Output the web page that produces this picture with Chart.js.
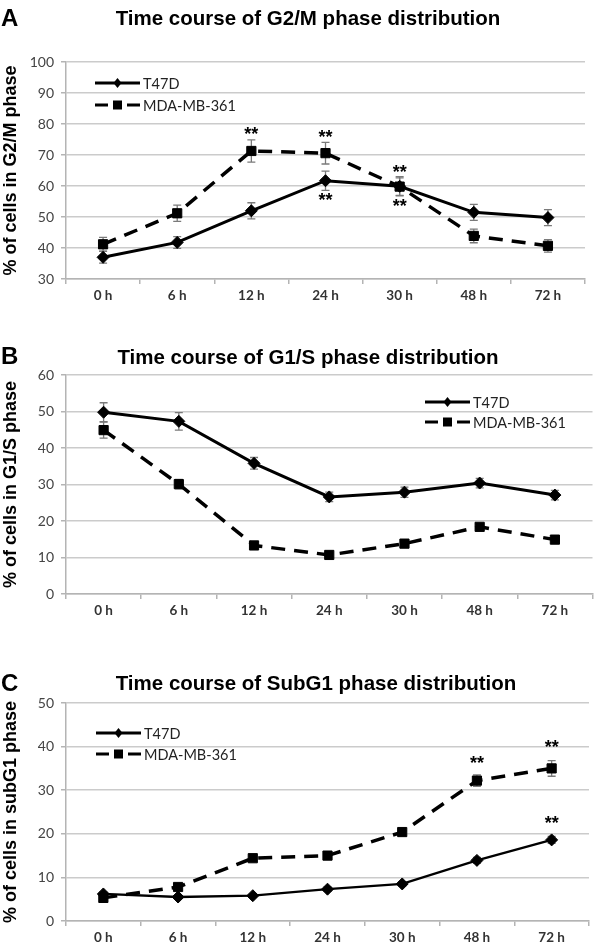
<!DOCTYPE html>
<html>
<head>
<meta charset="utf-8">
<script src="https://cdn.jsdelivr.net/npm/chart.js@4.4.0/dist/chart.umd.min.js"></script>
<style>
  body { margin: 0; background: #fff; }
  #page { position: relative; width: 600px; height: 943px; overflow: hidden; background: #fff; }
  canvas { position: absolute; left: 0; }
  .letter { position: absolute; left: 1px; font: bold 24px "Liberation Sans", Arial, sans-serif; color: #000; }
  .title { position: absolute; left: 0; width: 616px; text-align: center; font: bold 20.5px "Liberation Sans", Arial, sans-serif; color: #000; white-space: nowrap; }
</style>
</head>
<body>
<div id="page">
  <canvas id="chartA" width="600" height="312" style="top:0px"></canvas>
  <canvas id="chartB" width="600" height="290" style="top:340px"></canvas>
  <canvas id="chartC" width="600" height="303" style="top:640px"></canvas>

  <div class="letter" style="top:4px">A</div>
  <div class="title" style="top:6px">Time course of G2/M phase distribution</div>
  <div class="letter" style="top:342px">B</div>
  <div class="title" style="top:345px">Time course of G1/S phase distribution</div>
  <div class="letter" style="top:669px">C</div>
  <div class="title" style="top:671px; width:632px">Time course of SubG1 phase distribution</div>
</div>

<script>
const hours = ["0 h", "6 h", "12 h", "24 h", "30 h", "48 h", "72 h"];
const cellLines = ["T47D", "MDA-MB-361"];

// A - G2/M
const g2mT47D = [37.0, 41.8, 52.0, 61.7, 59.9, 51.5, 49.8];
const g2mT47DErr = [1.9, 1.9, 2.6, 3.1, 3.1, 2.6, 2.6];
const g2mMDA = [41.2, 51.2, 71.3, 70.6, 59.8, 43.9, 40.7];
const g2mMDAErr = [2.2, 2.6, 3.6, 3.5, 2.8, 2.2, 2.0];
const g2mStarHours = ["12 h", "24 h", "24 h", "30 h", "30 h"];
const g2mStarValues = [78.1, 77.2, 56.8, 65.7, 54.9];

// B - G1/S
const g1sT47D = [49.8, 47.3, 35.8, 26.6, 27.9, 30.4, 27.1];
const g1sT47DErr = [2.6, 2.4, 1.6, 1.3, 1.4, 1.3, 1.3];
const g1sMDA = [44.9, 30.1, 13.3, 10.7, 13.8, 18.4, 14.9];
const g1sMDAErr = [2.2, 1.3, 0.8, 0.6, 0.7, 0.8, 0.6];

// C - SubG1
const subT47D = [6.2, 5.5, 5.8, 7.3, 8.5, 13.9, 18.6];
const subT47DErr = [0.5, 0.4, 0.4, 0.5, 0.5, 0.7, 0.8];
const subMDA = [5.3, 7.8, 14.4, 15.0, 20.4, 32.2, 35.0];
const subMDAErr = [0.5, 0.6, 0.7, 0.7, 0.8, 1.3, 1.8];
const subStarHours = ["48 h", "72 h", "72 h"];
const subStarValues = [37.1, 40.8, 23.4];

const AXIS_GREY = "#b4b4b4";
const GRID_GREY = "#cbcbcb";

// error bars, drawn under the markers
const errorBars = {
  id: "errorBars",
  beforeDatasetsDraw(chart) {
    const ctx = chart.ctx;
    const y = chart.scales.y;
    ctx.save();
    ctx.strokeStyle = "#7a7a7a";
    ctx.lineWidth = 1.3;
    chart.data.datasets.forEach((ds, di) => {
      const meta = chart.getDatasetMeta(di);
      ds.errors.forEach((e, i) => {
        const pt = meta.data[i];
        const top = y.getPixelForValue(ds.data[i] + e);
        const bot = y.getPixelForValue(ds.data[i] - e);
        ctx.beginPath();
        ctx.moveTo(pt.x, top); ctx.lineTo(pt.x, bot);
        ctx.moveTo(pt.x - 4, top); ctx.lineTo(pt.x + 4, top);
        ctx.moveTo(pt.x - 4, bot); ctx.lineTo(pt.x + 4, bot);
        ctx.stroke();
      });
    });
    ctx.restore();
  }
};

// significance marks
const stars = {
  id: "stars",
  afterDatasetsDraw(chart, args, opts) {
    if (!opts.hours) return;
    const ctx = chart.ctx;
    ctx.save();
    ctx.fillStyle = "#000";
    ctx.font = "bold 18px 'Liberation Sans', Arial, sans-serif";
    ctx.textAlign = "center";
    ctx.textBaseline = "alphabetic";
    opts.hours.forEach((h, i) => {
      const px = chart.scales.x.getPixelForValue(hours.indexOf(h));
      const py = chart.scales.y.getPixelForValue(opts.values[i]);
      ctx.fillText("**", px, py + 10);
    });
    ctx.restore();
  }
};

// legend drawn inside the plot: line sample + marker + name
const lineLegend = {
  id: "lineLegend",
  afterDraw(chart, args, opts) {
    const ctx = chart.ctx;
    ctx.save();
    chart.data.datasets.forEach((ds, i) => {
      const y = opts.y + i * opts.gap;
      const x1 = opts.x, x2 = opts.x + 45, xm = opts.x + 22.5;
      ctx.strokeStyle = "#000";
      ctx.fillStyle = "#000";
      ctx.lineWidth = 3;
      ctx.beginPath();
      if (ds.borderDash) {
        ctx.moveTo(x1, y); ctx.lineTo(x1 + 13, y);
        ctx.moveTo(x2 - 13, y); ctx.lineTo(x2, y);
      } else {
        ctx.moveTo(x1, y); ctx.lineTo(x2, y);
      }
      ctx.stroke();
      if (ds.pointStyle === "rect") {
        ctx.fillRect(xm - 4.5, y - 4.5, 9, 9);
      } else {
        ctx.beginPath();
        ctx.moveTo(xm, y - 5); ctx.lineTo(xm + 4, y);
        ctx.lineTo(xm, y + 5); ctx.lineTo(xm - 4, y);
        ctx.closePath(); ctx.fill();
      }
      ctx.font = "14.5px Lato, 'Open Sans', sans-serif";
      ctx.fillStyle = "#222";
      ctx.textBaseline = "middle";
      ctx.fillText(ds.label, x2 + 3, y + 1);
    });
    ctx.restore();
  }
};

function makeChart(id, cfg) {
  const canvas = document.getElementById(id);
  const H = canvas.height;
  return new Chart(canvas, {
    type: "line",
    data: {
      labels: hours,
      datasets: [
        {
          label: cellLines[0],
          data: cfg.t47d,
          errors: cfg.t47dErr,
          borderColor: "#000",
          backgroundColor: "#000",
          borderWidth: cfg.solidWidth,
          pointStyle: "rectRot",
          pointRadius: 6,
          pointBorderWidth: 1,
          tension: 0
        },
        {
          label: cellLines[1],
          data: cfg.mda,
          errors: cfg.mdaErr,
          borderColor: "#000",
          backgroundColor: "#000",
          borderWidth: 3.5,
          borderDash: [14, 9],
          pointStyle: "rect",
          pointRadius: 6.5,
          pointBorderWidth: 1,
          tension: 0
        }
      ]
    },
    options: {
      responsive: false,
      animation: false,
      layout: { padding: { top: cfg.top, right: 600 - cfg.right, bottom: 0, left: 0 } },
      scales: {
        x: {
          offset: true,
          afterFit: (s) => { s.height = H - cfg.bottom; },
          grid: { offset: true, drawOnChartArea: false, tickLength: 5, color: AXIS_GREY, lineWidth: 1.5 },
          border: { color: AXIS_GREY, width: 1.5 },
          ticks: { color: "#333", font: { family: "Lato, 'Open Sans', sans-serif", size: 13.5, weight: "bold" }, padding: 4 }
        },
        y: {
          min: cfg.yMin, max: cfg.yMax,
          afterFit: (s) => { s.width = cfg.left; },
          ticks: { stepSize: 10, color: "#444", font: { family: "Lato, 'Open Sans', sans-serif", size: 14 }, padding: 7 },
          grid: { color: GRID_GREY, lineWidth: 1.5, tickLength: 5, tickColor: AXIS_GREY },
          border: { color: AXIS_GREY, width: 1.5 },
          title: {
            display: true, text: cfg.yTitle, color: "#000", padding: 0,
            font: { family: "'Liberation Sans', Arial, sans-serif", size: 18, weight: "bold" }
          }
        }
      },
      plugins: {
        legend: { display: false },
        tooltip: { enabled: false },
        stars: { hours: cfg.starHours, values: cfg.starValues },
        lineLegend: cfg.legend
      }
    },
    plugins: [errorBars, stars, lineLegend]
  });
}

makeChart("chartA", {
  t47d: g2mT47D, t47dErr: g2mT47DErr, mda: g2mMDA, mdaErr: g2mMDAErr,
  yMin: 30, yMax: 100, yTitle: "% of cells in G2/M phase",
  top: 62, bottom: 279, left: 66, right: 585, solidWidth: 3,
  starHours: g2mStarHours, starValues: g2mStarValues,
  legend: { x: 95, y: 83, gap: 22 }
});

makeChart("chartB", {
  t47d: g1sT47D, t47dErr: g1sT47DErr, mda: g1sMDA, mdaErr: g1sMDAErr,
  yMin: 0, yMax: 60, yTitle: "% of cells in G1/S phase",
  top: 35, bottom: 254, left: 66, right: 600, solidWidth: 3,
  legend: { x: 425, y: 62, gap: 20 }
});

makeChart("chartC", {
  t47d: subT47D, t47dErr: subT47DErr, mda: subMDA, mdaErr: subMDAErr,
  yMin: 0, yMax: 50, yTitle: "% of cells in subG1 phase",
  top: 63, bottom: 281, left: 66, right: 589, solidWidth: 2.3,
  starHours: subStarHours, starValues: subStarValues,
  legend: { x: 96, y: 93, gap: 21 }
});
</script>
</body>
</html>
